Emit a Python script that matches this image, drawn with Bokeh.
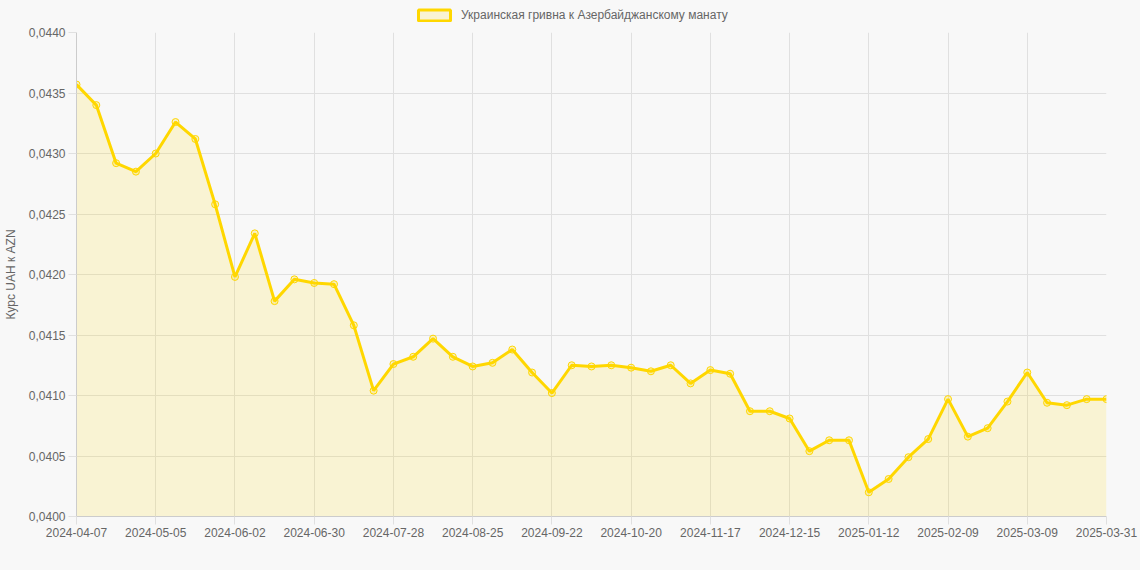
from bokeh.plotting import figure
from bokeh.layouts import column
from bokeh.models import (ColumnDataSource, FixedTicker, CustomJSTickFormatter, Range1d,
                          Legend, LegendItem)
from bokeh.embed import file_html
from bokeh.resources import INLINE

# ---- data ----
values = [
    0.04357, 0.04340, 0.04292, 0.04285, 0.04300, 0.04326, 0.04312, 0.04258,
    0.04198, 0.04234, 0.04178, 0.04196, 0.04193, 0.04192, 0.04158, 0.04104,
    0.04126, 0.04132, 0.04147, 0.04132, 0.04124, 0.04127, 0.04138, 0.04119,
    0.04102, 0.04125, 0.04124, 0.04125, 0.04123, 0.04120, 0.04125, 0.04110,
    0.04121, 0.04118, 0.04087, 0.04087, 0.04081, 0.04054, 0.04063, 0.04063,
    0.04020, 0.04031, 0.04049, 0.04064, 0.04097, 0.04066, 0.04073, 0.04095,
    0.04119, 0.04094, 0.04092, 0.04097, 0.04097,
]
tick_positions = [0, 4, 8, 12, 16, 20, 24, 28, 32, 36, 40, 44, 48, 52]
tick_labels = [
    "2024-04-07", "2024-05-05", "2024-06-02", "2024-06-30", "2024-07-28",
    "2024-08-25", "2024-09-22", "2024-10-20", "2024-11-17", "2024-12-15",
    "2025-01-12", "2025-02-09", "2025-03-09", "2025-03-31",
]
y_ticks = [0.0400, 0.0405, 0.0410, 0.0415, 0.0420, 0.0425, 0.0430, 0.0435, 0.0440]
series_name = "Украинская гривна к Азербайджанскому манату"
y_title = "Курс UAH к AZN"

LINE = "#FFD700"
FILL = "#FFD700"
BG = "#f8f8f8"
TXT = "#666666"
GRID = "#e0e0e0"
FONT = "Liberation Sans"

W = 1140

# ---- legend strip (top) ----
top = figure(width=W, height=24, output_backend="svg", toolbar_location=None,
             x_range=Range1d(0, 1), y_range=Range1d(0, 1),
             background_fill_color=BG, border_fill_color=BG, outline_line_color=None,
             min_border_left=0, min_border_right=0, min_border_top=0, min_border_bottom=0)
top.xaxis.visible = False
top.yaxis.visible = False
top.xgrid.visible = False
top.ygrid.visible = False
# hidden swatch renderer (lies outside the visible range), only used for the legend key
dummy = top.quad(left=[5], right=[6], top=[6], bottom=[5], fill_color=FILL, fill_alpha=0.15,
                 line_color=LINE, line_width=3)
legend = Legend(items=[LegendItem(label=series_name, renderers=[dummy])],
                location=(338, 2), orientation="horizontal",
                background_fill_alpha=0, border_line_color=None,
                glyph_width=40, glyph_height=14, label_standoff=7,
                label_text_font=FONT, label_text_font_size="12px", label_text_color=TXT,
                label_height=14, padding=0, margin=0, spacing=0)
top.add_layout(legend, "center")

# ---- main chart ----
idx = list(range(len(values)))
src = ColumnDataSource(dict(x=idx, y=values, base=[y_ticks[0]] * len(values)))

p = figure(width=W, height=546, output_backend="svg", toolbar_location=None,
           x_range=Range1d(0, len(values) - 1), y_range=Range1d(y_ticks[0], y_ticks[-1]),
           background_fill_color=BG, border_fill_color=BG, outline_line_color=None,
           min_border_left=75, min_border_right=34, min_border_top=8, min_border_bottom=54)

p.varea(x="x", y1="base", y2="y", source=src, fill_color=FILL, fill_alpha=0.15)
p.line(x="x", y="y", source=src, line_color=LINE, line_width=3)
p.scatter(x="x", y="y", source=src, size=7, marker="circle",
          fill_color=FILL, fill_alpha=0.2, line_color=LINE, line_width=1)

p.xaxis.ticker = FixedTicker(ticks=tick_positions)
p.xaxis.major_label_overrides = {t: l for t, l in zip(tick_positions, tick_labels)}
p.yaxis.ticker = FixedTicker(ticks=y_ticks)
p.yaxis.formatter = CustomJSTickFormatter(code="return tick.toFixed(4).replace('.', ',');")
p.yaxis.axis_label = y_title

for ax in (p.xaxis[0], p.yaxis[0]):
    ax.major_label_text_font = FONT
    ax.major_label_text_font_size = "12px"
    ax.major_label_text_color = TXT
    ax.axis_label_text_font = FONT
    ax.axis_label_text_font_size = "12px"
    ax.axis_label_text_font_style = "normal"
    ax.axis_label_text_color = TXT
    ax.axis_line_color = "#cccccc"
    ax.major_tick_line_color = GRID
    ax.major_tick_out = 8
    ax.major_tick_in = 0
    ax.minor_tick_line_color = None
    ax.major_label_standoff = 3

p.yaxis.axis_label_standoff = 8

p.xgrid.ticker = FixedTicker(ticks=tick_positions)
p.xgrid.grid_line_color = GRID
p.ygrid.grid_line_color = GRID

layout = column(top, p, spacing=0, styles={"background-color": BG})
open("out.html", "w").write(file_html(layout, INLINE))
